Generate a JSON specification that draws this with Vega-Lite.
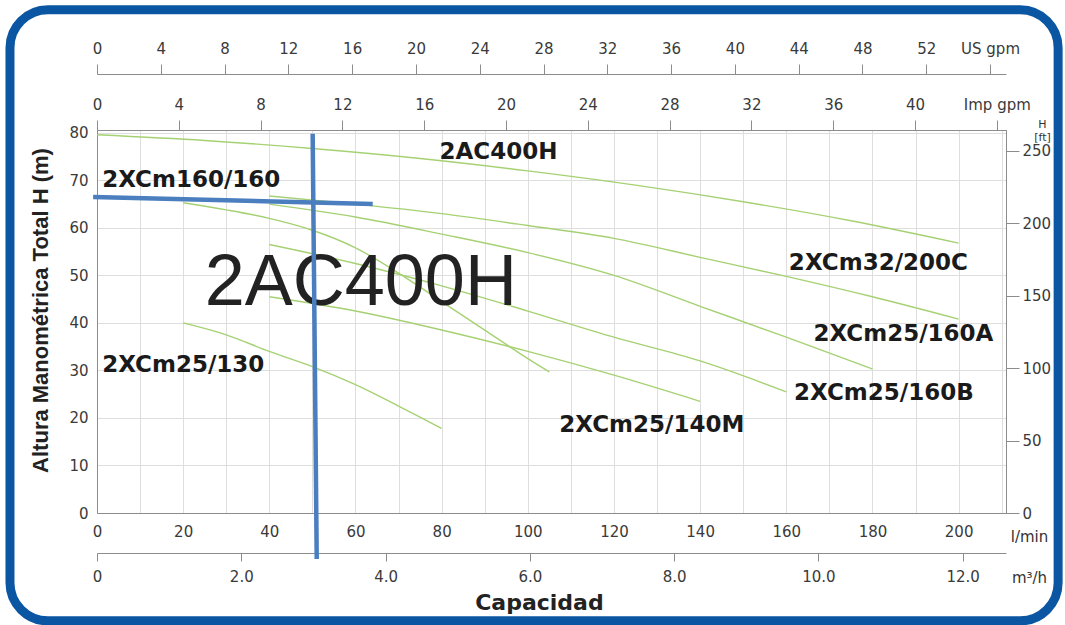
{
  "$schema": "https://vega.github.io/schema/vega-lite/v6.json",
  "width": 909,
  "height": 383,
  "autosize": {"type": "none"},
  "padding": {"left": 97, "top": 130, "right": 59, "bottom": 112},
  "background": "#ffffff",
  "config": {
    "view": {"stroke": "#8c8c8c", "strokeWidth": 1},
    "font": "DejaVu Sans",
    "axis": {
      "labelFont": "DejaVu Sans",
      "labelFontSize": 15,
      "labelColor": "#3a3a3a",
      "domainColor": "#8c8c8c",
      "tickColor": "#8c8c8c",
      "gridColor": "#dedede",
      "labelOverlap": false,
      "labelFlush": false,
      "labelBound": false
    }
  },
  "datasets": {
    "curves": [
      {"s": "2AC400H", "q": 0, "h": 79.6}, {"s": "2AC400H", "q": 25, "h": 78.4}, {"s": "2AC400H", "q": 50, "h": 76.7},
      {"s": "2AC400H", "q": 75, "h": 74.6}, {"s": "2AC400H", "q": 100, "h": 72.0}, {"s": "2AC400H", "q": 125, "h": 69.0},
      {"s": "2AC400H", "q": 150, "h": 65.5}, {"s": "2AC400H", "q": 175, "h": 61.5}, {"s": "2AC400H", "q": 200, "h": 56.8},
      {"s": "2XCm32/200C", "q": 40, "h": 66.7}, {"s": "2XCm32/200C", "q": 60, "h": 65.0}, {"s": "2XCm32/200C", "q": 80, "h": 63.0},
      {"s": "2XCm32/200C", "q": 100, "h": 60.5}, {"s": "2XCm32/200C", "q": 120, "h": 57.8}, {"s": "2XCm32/200C", "q": 140, "h": 53.8},
      {"s": "2XCm32/200C", "q": 160, "h": 49.8}, {"s": "2XCm32/200C", "q": 180, "h": 45.5}, {"s": "2XCm32/200C", "q": 200, "h": 40.8},
      {"s": "2XCm25/160A", "q": 40, "h": 65.0}, {"s": "2XCm25/160A", "q": 60, "h": 62.3}, {"s": "2XCm25/160A", "q": 80, "h": 58.7},
      {"s": "2XCm25/160A", "q": 100, "h": 54.8}, {"s": "2XCm25/160A", "q": 120, "h": 50.0}, {"s": "2XCm25/160A", "q": 140, "h": 43.5},
      {"s": "2XCm25/160A", "q": 160, "h": 37.0}, {"s": "2XCm25/160A", "q": 180, "h": 30.3},
      {"s": "2XCm25/160B", "q": 40, "h": 56.5}, {"s": "2XCm25/160B", "q": 60, "h": 52.5}, {"s": "2XCm25/160B", "q": 80, "h": 47.8},
      {"s": "2XCm25/160B", "q": 100, "h": 42.5}, {"s": "2XCm25/160B", "q": 120, "h": 37.0}, {"s": "2XCm25/160B", "q": 140, "h": 32.0},
      {"s": "2XCm25/160B", "q": 160, "h": 25.5},
      {"s": "2XCm25/140M", "q": 40, "h": 45.5}, {"s": "2XCm25/140M", "q": 60, "h": 42.5}, {"s": "2XCm25/140M", "q": 80, "h": 38.5},
      {"s": "2XCm25/140M", "q": 100, "h": 34.0}, {"s": "2XCm25/140M", "q": 120, "h": 29.0}, {"s": "2XCm25/140M", "q": 140, "h": 23.5},
      {"s": "2XCm160/160", "q": 20, "h": 65.3}, {"s": "2XCm160/160", "q": 30, "h": 63.8}, {"s": "2XCm160/160", "q": 40, "h": 62.0},
      {"s": "2XCm160/160", "q": 50, "h": 59.5}, {"s": "2XCm160/160", "q": 60, "h": 55.8}, {"s": "2XCm160/160", "q": 70, "h": 50.5},
      {"s": "2XCm160/160", "q": 80, "h": 44.5}, {"s": "2XCm160/160", "q": 90, "h": 38.5}, {"s": "2XCm160/160", "q": 100, "h": 32.5},
      {"s": "2XCm160/160", "q": 105, "h": 29.7},
      {"s": "2XCm25/130", "q": 20, "h": 40.0}, {"s": "2XCm25/130", "q": 30, "h": 37.5}, {"s": "2XCm25/130", "q": 40, "h": 34.0},
      {"s": "2XCm25/130", "q": 50, "h": 30.8}, {"s": "2XCm25/130", "q": 60, "h": 27.0}, {"s": "2XCm25/130", "q": 70, "h": 22.5},
      {"s": "2XCm25/130", "q": 80, "h": 17.8}
    ],
    "labels": [
      {"t": "2AC400H", "q": 79.5, "h": 76.0},
      {"t": "2XCm160/160", "q": 1.2, "h": 70.1},
      {"t": "2XCm25/130", "q": 1.2, "h": 31.2},
      {"t": "2XCm32/200C", "q": 160.6, "h": 52.6},
      {"t": "2XCm25/160A", "q": 166.3, "h": 37.7},
      {"t": "2XCm25/160B", "q": 161.8, "h": 25.3},
      {"t": "2XCm25/140M", "q": 107.3, "h": 18.5}
    ],
    "rules": [
      {"q": -0.9, "h": 66.5, "q2": 64.0, "h2": 65.05},
      {"q": 50.06, "h": 79.8, "q2": 51.0, "h2": -9.7}
    ],
    "frame": [
      {"q": -20.2, "h": 105.9, "q2": 223.1, "h2": -22.7}
    ]
  },
  "layer": [
    {
      "data": {"name": "frame"},
      "mark": {"type": "rect", "fill": "transparent", "stroke": "#0b56a3", "strokeWidth": 9, "cornerRadius": 38, "clip": false},
      "encoding": {
        "x": {"field": "q", "type": "quantitative", "scale": {"domain": [0, 211], "nice": false, "zero": false}, "axis": null},
        "x2": {"field": "q2"},
        "y": {"field": "h", "type": "quantitative", "scale": {"domain": [0, 80.6], "nice": false, "zero": false}, "axis": null},
        "y2": {"field": "h2"}
      }
    },
    {
      "data": {"name": "curves"},
      "mark": {"type": "line", "color": "#a6d173", "strokeWidth": 1.4, "interpolate": "monotone", "clip": false},
      "encoding": {
        "x": {
          "field": "q", "type": "quantitative",
          "scale": {"domain": [0, 211], "nice": false, "zero": false},
          "axis": {
            "orient": "bottom",
            "values": [0, 10, 20, 30, 40, 50, 60, 70, 80, 90, 100, 110, 120, 130, 140, 150, 160, 170, 180, 190, 200, 210],
            "labelExpr": "datum.value % 20 == 0 ? datum.label : ''",
            "grid": true,
            "ticks": false,
            "tickSize": 0,
            "labelPadding": 11,
            "title": "l/min",
            "titleX": 932,
            "titleY": 23,
            "titleAlign": "center",
            "titleBaseline": "middle",
            "titleAngle": 0,
            "titleFont": "DejaVu Sans",
            "titleFontWeight": "normal",
            "titleFontSize": 15,
            "titleColor": "#333333"
          }
        },
        "y": {
          "field": "h", "type": "quantitative",
          "scale": {"domain": [0, 80.6], "nice": false, "zero": false},
          "axis": {
            "orient": "left",
            "values": [0, 10, 20, 30, 40, 50, 60, 70, 80],
            "grid": true,
            "ticks": false,
            "tickSize": 0,
            "labelPadding": 9,
            "title": "Altura Manométrica Total H (m)",
            "titleFont": "Liberation Sans",
            "titleFontSize": 22,
            "titleFontWeight": "bold",
            "titleColor": "#222222",
            "titleAngle": -90,
            "titleX": -57,
            "titleY": 180,
            "titleAlign": "center",
            "titleBaseline": "middle"
          }
        },
        "detail": {"field": "s", "type": "nominal"}
      }
    },
    {
      "data": {"name": "labels"},
      "mark": {"type": "text", "font": "DejaVu Sans", "fontWeight": "bold", "fontSize": 23, "align": "left", "baseline": "middle", "color": "#1a1a1a", "clip": false},
      "encoding": {
        "x": {"field": "q", "type": "quantitative", "scale": {"domain": [0, 211], "nice": false, "zero": false}, "axis": null},
        "y": {"field": "h", "type": "quantitative", "scale": {"domain": [0, 80.6], "nice": false, "zero": false}, "axis": null},
        "text": {"field": "t"}
      }
    },
    {
      "data": {"values": [{"t": "2AC400H", "q": 25.0, "h": 43.8}]},
      "mark": {"type": "text", "font": "Liberation Sans", "fontWeight": "normal", "fontSize": 72, "align": "left", "baseline": "alphabetic", "color": "#222222", "clip": false},
      "encoding": {
        "x": {"field": "q", "type": "quantitative", "scale": {"domain": [0, 211], "nice": false, "zero": false}, "axis": null},
        "y": {"field": "h", "type": "quantitative", "scale": {"domain": [0, 80.6], "nice": false, "zero": false}, "axis": null},
        "text": {"field": "t"}
      }
    },
    {
      "data": {"values": [{"t": "Capacidad", "q": 102.7, "h": -18.9}]},
      "mark": {"type": "text", "font": "DejaVu Sans", "fontWeight": "bold", "fontSize": 22, "align": "center", "baseline": "middle", "color": "#222222", "clip": false},
      "encoding": {
        "x": {"field": "q", "type": "quantitative", "scale": {"domain": [0, 211], "nice": false, "zero": false}, "axis": null},
        "y": {"field": "h", "type": "quantitative", "scale": {"domain": [0, 80.6], "nice": false, "zero": false}, "axis": null},
        "text": {"field": "t"}
      }
    },
    {
      "data": {"name": "rules"},
      "mark": {"type": "rule", "color": "#4a7ebf", "strokeWidth": 4.5, "clip": false},
      "encoding": {
        "x": {"field": "q", "type": "quantitative", "scale": {"domain": [0, 211], "nice": false, "zero": false}, "axis": null},
        "x2": {"field": "q2"},
        "y": {"field": "h", "type": "quantitative", "scale": {"domain": [0, 80.6], "nice": false, "zero": false}, "axis": null},
        "y2": {"field": "h2"}
      }
    },
    {
      "data": {"values": [{"m3": 0}]},
      "mark": {"type": "point", "opacity": 0},
      "encoding": {
        "x": {
          "field": "m3", "type": "quantitative",
          "scale": {"domain": [0, 12.6], "nice": false, "zero": false},
          "axis": {
            "orient": "bottom",
            "offset": 40,
            "values": [0, 2, 4, 6, 8, 10, 12],
            "format": ".1f",
            "labelExpr": "datum.value == 0 ? '0' : datum.label",
            "grid": false,
            "tickSize": 8,
            "labelPadding": 8,
            "title": "m³/h",
            "titleX": 932,
            "titleY": 24,
            "titleAlign": "center",
            "titleBaseline": "middle",
            "titleAngle": 0,
            "titleFont": "DejaVu Sans",
            "titleFontWeight": "normal",
            "titleFontSize": 15,
            "titleColor": "#333333"
          }
        }
      }
    },
    {
      "data": {"values": [{"us": 0}]},
      "mark": {"type": "point", "opacity": 0},
      "encoding": {
        "x": {
          "field": "us", "type": "quantitative",
          "scale": {"domain": [0, 57], "nice": false, "zero": false},
          "axis": {
            "orient": "top",
            "offset": 56,
            "values": [0, 4, 8, 12, 16, 20, 24, 28, 32, 36, 40, 44, 48, 52, 56],
            "labelExpr": "datum.value == 56 ? 'US gpm' : datum.label",
            "grid": false,
            "tickSize": 10,
            "labelPadding": 8,
            "title": null
          }
        }
      }
    },
    {
      "data": {"values": [{"imp": 0}]},
      "mark": {"type": "point", "opacity": 0},
      "encoding": {
        "x": {
          "field": "imp", "type": "quantitative",
          "scale": {"domain": [0, 44.45], "nice": false, "zero": false},
          "axis": {
            "orient": "top",
            "offset": 0,
            "values": [0, 4, 8, 12, 16, 20, 24, 28, 32, 36, 40, 44],
            "labelExpr": "datum.value == 44 ? 'Imp gpm' : datum.label",
            "grid": false,
            "tickSize": 10,
            "labelPadding": 8,
            "title": null
          }
        }
      }
    },
    {
      "data": {"values": [{"ft": 0}]},
      "mark": {"type": "point", "opacity": 0},
      "encoding": {
        "y": {
          "field": "ft", "type": "quantitative",
          "scale": {"domain": [0, 264.4], "nice": false, "zero": false},
          "axis": {
            "orient": "right",
            "values": [0, 50, 100, 150, 200, 250],
            "grid": false,
            "tickSize": 13,
            "labelPadding": 3,
            "title": ["H", "[ft]"],
            "titleAngle": 0,
            "titleX": 36,
            "titleY": -1,
            "titleAlign": "center",
            "titleBaseline": "bottom",
            "titleFont": "DejaVu Sans",
            "titleFontWeight": "normal",
            "titleFontSize": 11,
            "titleLineHeight": 13,
            "titleColor": "#333333"
          }
        }
      }
    }
  ],
  "resolve": {
    "scale": {"x": "independent", "y": "independent"},
    "axis": {"x": "independent", "y": "independent"}
  }
}
